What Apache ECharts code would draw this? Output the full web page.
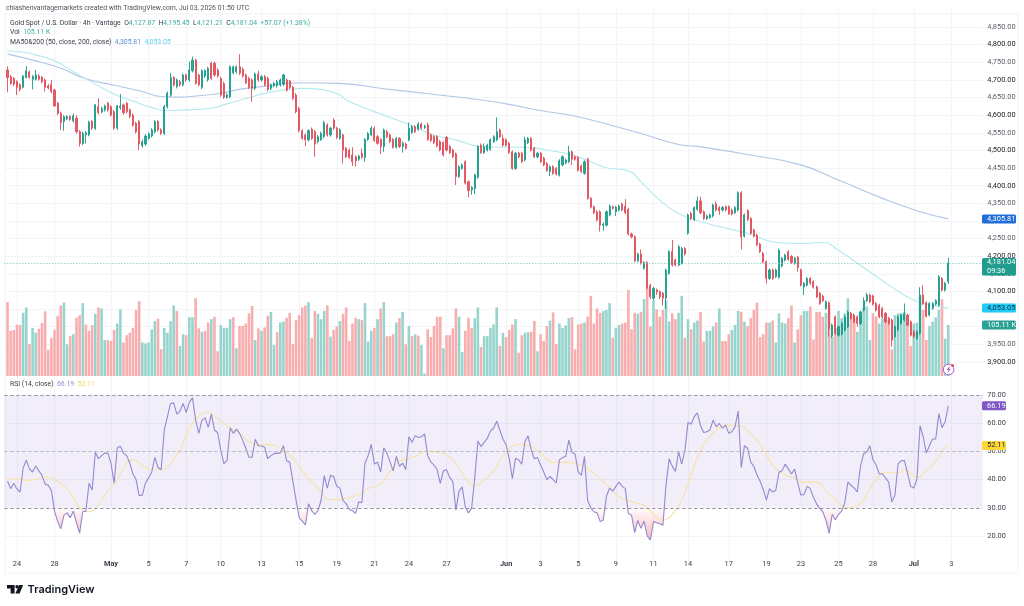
<!DOCTYPE html>
<html>
<head>
<meta charset="utf-8">
<title>XAUUSD 4h</title>
<script src="https://cdn.jsdelivr.net/npm/echarts@6/dist/echarts.min.js"></script>
<style>html,body{margin:0;padding:0;background:#fff}#chart{width:1024px;height:606px}</style>
</head>
<body>
<div id="chart"></div>
<script>
// Four-hour bars, oldest first
const opens = [
4728,4709,4704,4695,4686,4679,4707,4723,4702,4702,4711,4707,4700,4683,4686,4671,4634,4605,4582,4590,
4596,4584,4591,4553,4520,4544,4544,4582,4563,4624,4610,4615,4634,4624,4610,4563,4622,4629,4634,4615,
4600,4577,4582,4513,4518,4534,4541,4553,4582,4558,4548,4624,4657,4707,4681,4695,4686,4714,4700,4726,
4756,4714,4679,4711,4700,4747,4747,4728,4704,4690,4651,4652,4720,4723,4737,4730,4714,4704,4700,4676,
4717,4700,4709,4704,4676,4683,4683,4686,4688,4700,4697,4679,4657,4619,4556,4544,4530,4560,4553,4525,
4531,4539,4572,4544,4586,4563,4534,
4544,4506,4501,4487,4482,4475,4492,4480,4531,4544,4563,4539,4531,4511,4553,4544,4531,4509,4534,4511,
4518,4530,4551,4567,4560,4575,4565,4572,4544,4539,4539,4525,4522,4537,4511,4501,4490,4426,4449,4468,
4411,4388,4392,4424,4515,4494,4501,4503,4525,4530,4558,4534,4530,4520,4496,4449,4492,4492,4473,4522,
4534,4506,4482,4492,4478,4463,4440,4454,4449,4430,4459,4465,4468,4496,4482,4480,4456,4435,4475,4364,
4340,4326,4326,4288,4288,4317,4340,4326,4331,4348,4342,4333,4263,4255,4187,4206,4166,4182,4118,4081,
4104,4099,4095,4081,4151,4213,4189,4175,
4180,4222,4265,4321,4304,4333,4357,4326,4307,4310,4314,4348,4338,4331,4340,4340,4331,4323,4331,4380,
4257,4329,4307,4274,4260,4234,4208,4184,4137,4161,4142,4140,4172,4189,4213,4199,4180,4197,4161,4113,
4118,4137,4128,4113,4095,4087,4052,4068,3974,4028,3976,3979,3991,4000,4038,4033,4028,4009,4047,4074,
4090,4087,4066,4061,4052,4038,4024,4019,3972,3991,4009,4019,4033,4014,3986,3967,3981,4090,4068,4033,
4052,4064,4061,4137,4104,4127.87];
const closes = [
4707,4690,4688,4679,4673,4711,4726,4707,4709,4714,4702,4695,4679,4677,4667,4626,4605,4579,4596,4596,
4588,4598,4553,4520,4548,4550,4580,4563,4629,4607,4619,4626,4615,4600,4563,4626,4626,4607,4610,4596,
4572,4553,4518,4525,4541,4547,4558,4582,4558,4548,4624,4662,4707,4686,4700,4686,4714,4700,4728,4756,
4690,4686,4726,4726,4733,4704,4714,4711,4657,4651,4657,4737,4737,4737,4719,4711,4692,4679,4676,4717,
4700,4709,4686,4673,4686,4690,4695,4700,4714,4671,4679,4648,4610,4556,4534,4530,4556,4534,4518,4539,
4548,4579,4544,4563,4563,4537,4558,
4501,4482,4480,4468,4471,4484,4480,4531,4548,4563,4528,4520,4511,4558,4539,4525,4509,4534,4511,4520,
4506,4563,4567,4553,4575,4563,4569,4531,4528,4522,4513,4501,4487,4501,4494,4482,4426,4454,4459,4407,
4386,4395,4430,4511,4494,4511,4515,4530,4539,4553,4539,4515,4515,4494,4449,4492,4482,4468,4530,4534,
4501,4482,4492,4468,4459,4443,4454,4435,4433,4471,4482,4473,4496,4475,4475,4444,4440,4468,4364,4339,
4323,4303,4288,4291,4326,4342,4336,4339,4342,4331,4323,4263,4255,4187,4206,4180,4182,4109,4085,4109,
4099,4085,4081,4161,4213,4175,4175,4227,
4222,4206,4317,4307,4338,4357,4323,4307,4314,4317,4345,4331,4329,4338,4331,4321,4320,4338,4380,4255,
4317,4304,4265,4257,4232,4213,4184,4137,4161,4137,4161,4217,4194,4203,4191,4182,4194,4168,4118,4123,
4137,4123,4112,4085,4066,4074,4071,3995,4005,3981,4000,4009,4028,4042,4024,4014,4009,4042,4074,4090,
4071,4064,4047,4028,4028,4014,4009,3962,4000,4028,4033,4036,4005,3976,3972,3986,4090,4066,4030,4066,
4066,4074,4142,4104,4123,4181.04];
const lows = [
4665,4686,4682,4657,4667,4676,4704,4704,4673,4698,4698,4690,4667,4673,4662,4624,4600,4558,4556,4586,
4584,4579,4548,4511,4515,4520,4540,4558,4558,4602,4605,4610,4610,4596,4558,4558,4615,4602,4605,4591,
4567,4548,4501,4508,4513,4530,4537,4548,4553,4544,4544,4619,4652,4681,4676,4681,4681,4695,4695,4721,
4686,4681,4674,4706,4695,4700,4709,4706,4652,4646,4646,4648,4716,4718,4714,4706,4688,4674,4638,4671,
4695,4695,4681,4668,4671,4679,4678,4681,4683,4667,4674,4643,4605,4551,4530,4512,4525,4530,4482,4520,
4527,4534,4539,4539,4558,4532,4530,
4463,4478,4476,4456,4454,4470,4476,4468,4527,4540,4524,4516,4490,4496,4535,4521,4505,4505,4507,4494,
4502,4526,4547,4549,4556,4559,4561,4527,4524,4518,4509,4497,4483,4497,4490,4478,4402,4422,4445,4403,
4367,4374,4376,4420,4490,4490,4497,4499,4521,4526,4535,4511,4511,4490,4445,4445,4478,4464,4469,4518,
4497,4478,4478,4464,4455,4439,4427,4431,4429,4426,4455,4461,4464,4459,4471,4440,4436,4431,4360,4335,
4319,4299,4270,4272,4284,4313,4332,4314,4327,4327,4319,4259,4251,4183,4183,4176,4162,4105,4078,4075,
4090,4078,4060,4050,4147,4171,4171,4171,
4176,4202,4261,4303,4300,4329,4319,4303,4303,4306,4310,4327,4317,4327,4327,4317,4316,4319,4327,4219,
4253,4300,4261,4253,4228,4209,4180,4123,4133,4133,4138,4136,4168,4185,4187,4178,4176,4156,4114,4090,
4114,4119,4108,4081,4062,4070,4048,3972,3968,3977,3972,3975,3987,3996,4020,4010,4000,4005,4043,4070,
4067,4060,4043,4024,4024,4010,4005,3943,3968,3987,4005,4015,4001,3972,3968,3963,3977,4062,4026,4029,
4048,4060,4057,4100,4100,4121.21];
const highs = [
4739,4714,4708,4699,4690,4714,4739,4726,4714,4728,4716,4711,4704,4688,4700,4675,4638,4610,4600,4600,
4600,4605,4600,4558,4553,4555,4584,4586,4632,4648,4624,4630,4638,4629,4615,4629,4660,4633,4638,4619,
4605,4581,4586,4530,4546,4551,4563,4586,4586,4563,4629,4667,4720,4711,4704,4700,4718,4718,4752,4766,
4760,4718,4730,4730,4737,4752,4752,4733,4709,4695,4662,4741,4741,4741,4773,4735,4718,4709,4704,4721,
4726,4714,4714,4709,4690,4695,4700,4704,4717,4704,4700,4683,4662,4624,4560,4548,4560,4565,4558,4544,
4553,4584,4577,4567,4591,4567,4563,
4548,4510,4505,4509,4486,4488,4506,4535,4552,4569,4568,4544,4535,4562,4558,4548,4535,4538,4538,4525,
4522,4579,4572,4572,4580,4579,4573,4579,4548,4543,4543,4529,4526,4541,4515,4505,4494,4458,4463,4472,
4415,4399,4434,4515,4520,4520,4519,4534,4543,4594,4562,4545,4534,4524,4500,4496,4496,4496,4539,4538,
4538,4510,4496,4496,4482,4467,4458,4458,4453,4475,4486,4477,4513,4500,4486,4484,4460,4472,4479,4368,
4344,4330,4330,4295,4330,4346,4344,4343,4346,4352,4362,4337,4267,4259,4210,4219,4186,4186,4122,4113,
4108,4103,4099,4165,4217,4246,4193,4231,
4226,4226,4321,4326,4342,4369,4369,4330,4318,4321,4349,4355,4342,4342,4344,4344,4335,4342,4384,4384,
4321,4333,4311,4278,4264,4238,4212,4188,4165,4165,4165,4222,4198,4207,4217,4203,4198,4201,4165,4127,
4141,4141,4132,4117,4099,4091,4075,4072,4009,4032,4004,4013,4032,4046,4042,4037,4032,4046,4083,4096,
4094,4091,4070,4065,4056,4042,4028,4023,4004,4032,4037,4066,4037,4018,3990,3990,4112,4118,4072,4070,
4070,4078,4146,4141,4127,4195.45];

// Volume in thousands, and whether each volume bar is an up (G) or down (R) bar
const volumes = [
152,93,95,106,105,130,141,66,99,89,97,109,133,54,78,95,123,145,151,65,
82,86,120,125,150,106,93,105,128,141,139,74,74,72,95,108,137,69,84,89,
99,136,154,69,67,69,96,113,118,55,99,89,113,145,134,62,86,84,121,121,
160,98,91,93,110,117,122,51,105,99,99,117,121,57,103,103,108,129,144,74,
98,93,100,124,132,64,90,110,112,120,130,66,115,125,141,145,152,78,134,128,
117,134,145,81,95,102,113,
128,141,72,108,120,117,115,150,71,93,99,117,139,152,82,82,86,110,119,132,
65,103,82,86,83,64,5,96,80,103,122,122,57,84,84,98,139,122,49,93,
120,99,119,141,60,82,82,99,106,141,62,89,80,95,106,117,48,84,89,90,
91,113,51,86,72,103,114,131,66,108,99,104,119,121,55,106,108,110,122,165,
108,139,130,134,136,150,79,99,105,108,110,177,96,130,128,132,158,180,102,156,
137,122,136,156,112,129,117,130,
165,79,117,96,110,114,132,71,93,93,102,110,139,72,72,86,95,105,134,132,
112,103,119,136,151,80,86,110,110,114,69,129,110,108,119,145,69,96,125,134,
134,143,75,132,132,122,130,146,81,99,134,119,129,160,127,119,91,125,141,143,
74,129,122,108,119,129,115,55,125,129,129,132,108,62,108,110,163,136,74,103,
112,121,136,158,77,105.11];
const volumeDirs =
"RRRRRGGRGG"+"RRRRRRRRGG"+"RGRRGRRRGR"+"GGRRRGGRRR"+"RRRGGGGGRR"+"GGGGRGGRGG"+"RRGRRGRRGG"+"GGRGRRRRRG"+"RGRRGGRGGR"+"RRRRRRGRRG"+"GGRGRRG"+
"RRRRRGRGGG"+"RGRGRRRGRG"+"RGRGRGGRRR"+"RRGRRRRGGR"+"RRGGRGGGGG"+"RGRRRGRRGG"+"RRGRRRGRRG"+"GGGRRRRGRR"+"RRRGGGRGGR"+"RRRRGRGRRG"+"RRRGGRRG"+
"GRGRGGRRGG"+"GRGRRRGGGR"+"GRRRRRRRGR"+"GGGGRRGRRG"+"GRRRRRGRGR"+"GGGGRRGGGG"+"GRRGGRRRGG"+"GGRRGGGRRG"+"GGGRGG";

// RSI(14) per bar
const rsiValues = [
39.4,36.8,38.7,36.7,35.6,44.1,46.9,43.8,42.7,44.8,43.1,41.5,38.4,38,36.1,28.8,25.1,22.6,27.4,28.2,
26.5,28.8,24.7,21,28.6,28.8,38.7,36.3,49.7,47.4,48.5,49.4,49.4,45.8,38.7,51.3,51.8,49.4,48.5,45.8,
42,40,34.3,34.5,38.8,40.6,42.7,47.9,44.3,43.5,57.6,62.3,67,67.2,63.2,64.3,67,63.8,67.5,69,
61.1,56.4,61.1,61.9,58.5,63.2,57.6,56.7,50.5,45.7,46.7,58.4,56.4,57.9,56.4,54,51.1,47.9,47.9,54.3,
52,51.9,51.5,47.4,48.5,49.2,49.4,49.4,52,46.7,46.2,39.4,32.9,26.5,25.3,23.9,31.4,29,27.7,29,
32.6,41.4,37,41.5,41.1,37.6,37,
32.6,31.4,29.4,29,28,32.1,31.8,45.8,48.5,52.5,45.5,46.2,42.7,51.3,49.4,46.2,43.1,48.2,44.7,45.8,
43.5,55.2,53.2,55.6,54.9,55.2,56.2,48.5,46.2,45.2,43.5,38.7,43.1,43.5,40.8,39.4,29.2,35.9,37.4,30.2,
28.2,29.8,40.6,53.7,51.7,53.2,54.6,57.2,58.2,60.7,57.6,54.4,52.3,47.4,40.3,47.6,47,45.5,53.5,55.5,
50.5,47.4,47.8,45.2,42.7,40,41.1,40,38.8,47,47.8,48.2,54,49.7,49,42.7,41.5,48.2,32.6,30,
28.6,28.2,25.1,25.7,34.1,37,35.9,37.6,39.1,37.6,36.8,27.9,27.4,21.2,25.5,22.7,25.3,20,18.5,25.1,
24.7,24.4,23.8,38.2,47.4,44.7,42.9,49.9,
45.5,50.2,60.3,59.6,62.3,63.7,59.1,56.7,57,57.6,61.1,58.7,59.9,58.2,59.3,56.4,57,58.7,64.3,44.3,
52,51.1,46.2,44.7,41.7,39.4,36.5,32.7,36.8,35.6,36.2,42.6,43.1,45.5,43.8,42,43.7,38.8,34.5,34.7,
37.6,36.8,33.8,31.4,29.8,28.6,25.5,20.9,27.7,25.7,27.7,28.8,31.8,39.1,38,37,35.6,44.7,49.1,49.9,
52,47,45.2,42,42,40.6,39.1,32.1,34.5,45.6,46.7,46.8,42.3,37.6,37,40,59.1,55.2,49.4,52,
54.4,54.4,63.4,58.4,60.5,66.19];

// Smoothed overlays, read at the bars listed alongside each one
const slowMaBars = [0,8,17,25,34,42,50,54,61,68,74,81,88,94,106,120,135,151,159,170,180,191,202,214,221,237,253,265,279,290,300];
const slowMaValues = [4773,4756,4733,4703,4685,4669,4652,4651,4655,4662,4673,4681,4689,4692,4690,4675,4660,4643,4632,4613,4599,4575,4548,4517,4510,4487,4459,4416,4364,4329,4305.81];
const fastMaBars = [0,4,9,15,21,28,34,40,46,51,57,64,70,76,83,90,94,100,106,108,117,127,136,143,150,157,165,172,180,186,191,198,202,208,214,220,227,236,246,253,260,265,271,278,285,291,297,300];
const fastMaValues = [4782,4780,4771,4754,4723,4688,4660,4640,4622,4613,4615,4618,4632,4647,4664,4673,4676,4673,4657,4643,4610,4577,4544,4530,4512,4509,4509,4501,4487,4468,4451,4442,4411,4359,4321,4301,4284,4265,4238,4236,4239,4217,4180,4137,4095,4068,4057,4053.05];
const rsiMaBars = [0,3,6,9,12,15,18,20,23,26,28,32,35,38,40,43,46,49,52,55,58,61,64,67,71,74,77,81,84,88,91,94,99,103,106,110,112,115,119,122,125,130,134,137,140,143,146,149,152,155,158,163,167,170,174,178,183,187,191,195,199,203,206,209,211,214,218,221,223,226,229,233,237,240,243,246,251,254,258,261,265,268,271,274,277,280,284,286,290,293,296,298,300];
const rsiMaValues = [40.1,40.3,39.7,40.1,40.9,40,37.6,35.3,30.2,28.6,29.8,35.9,40,45.8,47,45.2,43.5,43.5,45.8,50.5,58.2,62.6,63.8,61.7,58.4,56.4,53.5,52.3,52.3,50.2,47.6,42.9,37,32.9,33,34.1,34.7,36.8,38.4,42.9,46.4,48.2,50.2,49.6,48.8,45.8,40.6,37.6,40,43.1,48.2,52.5,51.7,49.4,46.1,46.1,45,42.3,38.2,34.1,32.1,30.9,27.7,25.5,26.5,30.6,41.7,50.5,54,57.6,59.3,59.1,56.4,52.3,47,42.9,40.6,39.1,39.1,35.9,31.8,30,30.6,34.7,40,42.6,42.3,43.5,40.8,43.1,46.4,50.2,52.11];

// Time scale: labels and the bar slot each one sits on (slot 0 is a blank lead-in)
const tickLabels = ['24','28','May','5','7','10','13','15','19','21','24','27','Jun','3','5','9','11','14','17','19','23','25','28','Jul','3'];
const tickSlots = [4,16,34,46,58,69,82,94,106,118,129,141,160,171,183,195,207,218,231,243,254,266,277,290,302];
const monthLabels = ['May','Jun','Jul'];
const slotCount = 313;

const lastClose = closes[closes.length - 1];
const lastVolume = volumes[volumes.length - 1];
const lastRsi = rsiValues[rsiValues.length - 1];
const lastRsiMa = rsiMaValues[rsiMaValues.length - 1];
const lastSlowMa = slowMaValues[slowMaValues.length - 1];
const lastFastMa = fastMaValues[fastMaValues.length - 1];

const UP = '#1a9c8a', DOWN = '#e04f5a';
const VOL_UP = '#97d4ce', VOL_DOWN = '#f8aeae';
const GRID = '#f3f4f8';
const FONT = 'Roboto, sans-serif';
const TEXT_SIZE = 7.4;
const LEGEND_SIZE = 6.85;

const categories = new Array(slotCount).fill('');
tickSlots.forEach((s, k) => { categories[s] = tickLabels[k]; });
const hasLabel = (index) => categories[index] !== '';

// Every series addresses its bar's slot explicitly; bar n sits in slot n + 1
const candleData = opens.map((o, i) => [i + 1, o, closes[i], lows[i], highs[i]]);
const volumeData = volumes.map((v, i) => ({
  value: [i + 1, v],
  itemStyle: { color: volumeDirs[i] === 'G' ? VOL_UP : VOL_DOWN }
}));
const rsiData = rsiValues.map((v, i) => [i + 1, v]);
const rsiUnder = rsiValues.map((v, i) => [i + 1, Math.min(v, 30)]);
const pairs = (bars, vals) => bars.map((b, i) => [b + 1, vals[i]]);

const plotLeft = 4.36, plotWidth = 978.4;
const gridXAxis = (gridIndex, extra) => Object.assign({
  type: 'category', gridIndex, data: categories, boundaryGap: false,
  axisLine: { show: false }, axisTick: { show: false },
  axisLabel: { show: false },
  splitLine: { show: true, interval: hasLabel, lineStyle: { color: GRID, width: 1 } }
}, extra);

const priceLabel = v => v.toLocaleString('en-US', { minimumFractionDigits: 2, maximumFractionDigits: 2 });
const span = color => ({ fontFamily: FONT, fontSize: LEGEND_SIZE, color });

const option = {
  animation: false,
  backgroundColor: '#ffffff',
  title: [
    { left: 6, top: 4.5, padding: 0, text: 'chiashenvantagemarkets created with TradingView.com, Jul 03, 2026 01:50 UTC',
      textStyle: { fontFamily: FONT, fontSize: LEGEND_SIZE, fontWeight: 'normal', color: '#50535e' } },
    { left: 10, top: 19.5, padding: 0,
      text: '{l|Gold Spot / U.S. Dollar · 4h · Vantage}  {l|O}{v|4,127.87}  {l|H}{v|4,195.45}  {l|L}{v|4,121.21}  {l|C}{v|4,181.04}  {v|+57.07 (+1.38%)}',
      textStyle: { fontFamily: FONT, fontSize: LEGEND_SIZE, fontWeight: 'normal',
        rich: { l: span('#3a3e4a'), v: span('#3fae9f') } } },
    { left: 10, top: 29, padding: 0, text: '{l|Vol}  {v|105.11 K}',
      textStyle: { fontFamily: FONT, fontSize: LEGEND_SIZE, fontWeight: 'normal',
        rich: { l: span('#3a3e4a'), v: span('#3fae9f') } } },
    { left: 10, top: 38.5, padding: 0, text: '{l|MA50&200 (50, close, 200, close)}  {b|4,305.81}  {c|4,053.05}',
      textStyle: { fontFamily: FONT, fontSize: LEGEND_SIZE, fontWeight: 'normal',
        rich: { l: span('#3a3e4a'), b: span('#5b8fd0'), c: span('#5fd0ec') } } },
    { left: 10, top: 381, padding: 0, text: '{l|RSI (14, close)}  {p|66.19}  {y|52.11}',
      textStyle: { fontFamily: FONT, fontSize: LEGEND_SIZE, fontWeight: 'normal',
        rich: { l: span('#3a3e4a'), p: span('#9a86d6'), y: span('#f4d35e') } } },
    { left: 27.5, top: 584, padding: 0, text: 'TradingView',
      textStyle: { fontFamily: '"Inter", sans-serif', fontSize: 11, fontWeight: 600, color: '#131722' } }
  ],
  grid: [
    { left: plotLeft, width: plotWidth, top: 9.37, height: 370.26 },
    { left: plotLeft, width: plotWidth, top: 278.8, height: 97.2 },
    { left: plotLeft, width: plotWidth, top: 366.8, height: 197.4 }
  ],
  xAxis: [
    gridXAxis(0),
    gridXAxis(1, { splitLine: { show: false } }),
    gridXAxis(2, {
      axisLabel: {
        show: true, interval: hasLabel, margin: -3.5, hideOverlap: false,
        fontFamily: FONT, fontSize: TEXT_SIZE, color: '#3a3e4a',
        formatter: v => monthLabels.includes(v) ? '{m|' + v + '}' : v,
        rich: { m: { fontFamily: FONT, fontSize: TEXT_SIZE, fontWeight: 'bold', color: '#3a3e4a' } }
      }
    })
  ],
  yAxis: [
    { type: 'value', gridIndex: 0, position: 'right', min: 3850, max: 4900, interval: 50, scale: true,
      axisLine: { show: false }, axisTick: { show: false },
      splitLine: { show: true, showMinLine: false, showMaxLine: false, lineStyle: { color: GRID, width: 1 } },
      axisLabel: { margin: 4.5, showMinLabel: false, showMaxLabel: false, fontFamily: FONT, fontSize: TEXT_SIZE,
        formatter: priceLabel, color: v => (Number(v) % 100 === 0 ? '#20232c' : '#5a5e69') } },
    { type: 'value', gridIndex: 1, position: 'right', min: 0, max: 200,
      axisLine: { show: false }, axisTick: { show: false }, axisLabel: { show: false }, splitLine: { show: false } },
    { type: 'value', gridIndex: 2, position: 'right', min: 10, max: 80, interval: 10,
      axisLine: { show: false }, axisTick: { show: false },
      splitLine: { show: true, showMinLine: false, showMaxLine: false, lineStyle: { color: GRID, width: 1 } },
      axisLabel: { margin: 4.5, showMinLabel: false, showMaxLabel: false, fontFamily: FONT, fontSize: TEXT_SIZE, color: '#3a3e4a',
        formatter: v => v.toFixed(2) } }
  ],
  series: [
    { type: 'bar', name: 'Volume', xAxisIndex: 1, yAxisIndex: 1, data: volumeData, barWidth: 2.6, z: 1, silent: true },
    { type: 'line', name: 'MA 200', xAxisIndex: 0, yAxisIndex: 0, data: pairs(slowMaBars, slowMaValues), smooth: true,
      showSymbol: false, z: 2, silent: true, lineStyle: { color: '#b0c6e5', width: 1.1 } },
    { type: 'line', name: 'MA 50', xAxisIndex: 0, yAxisIndex: 0, data: pairs(fastMaBars, fastMaValues), smooth: true,
      showSymbol: false, z: 2, silent: true, lineStyle: { color: '#b3e9ef', width: 1.1 } },
    { type: 'candlestick', name: 'XAUUSD', xAxisIndex: 0, yAxisIndex: 0, data: candleData, barWidth: 1.6, z: 3, silent: true,
      encode: { x: 0, y: [1, 2, 3, 4] },
      itemStyle: { color: UP, color0: DOWN, borderColor: UP, borderColor0: DOWN, borderWidth: 1, opacity: 0.9 },
      markLine: { silent: true, symbol: 'none', label: { show: false },
        lineStyle: { color: '#6fc4b8', type: [1, 2], width: 1 }, data: [{ yAxis: lastClose }] } },
    { type: 'line', name: 'RSI oversold', xAxisIndex: 2, yAxisIndex: 2, data: rsiUnder, showSymbol: false, silent: true, z: 2,
      lineStyle: { opacity: 0 },
      areaStyle: { origin: 30, color: { type: 'linear', x: 0, y: 0, x2: 0, y2: 1,
        colorStops: [{ offset: 0, color: 'rgba(242,54,69,0.02)' }, { offset: 1, color: 'rgba(242,54,69,0.5)' }] } } },
    { type: 'line', name: 'RSI MA', xAxisIndex: 2, yAxisIndex: 2, data: pairs(rsiMaBars, rsiMaValues), smooth: true,
      showSymbol: false, silent: true, z: 3, lineStyle: { color: '#f7e3a8', width: 1.1 } },
    { type: 'line', name: 'RSI', xAxisIndex: 2, yAxisIndex: 2, data: rsiData, showSymbol: false, silent: true, z: 4,
      lineStyle: { color: '#9487d0', width: 1.1 },
      markArea: { silent: true, itemStyle: { color: 'rgba(126,87,194,0.1)' }, data: [[{ yAxis: 30 }, { yAxis: 70 }]] },
      markLine: { silent: true, symbol: 'none', label: { show: false },
        data: [
          { yAxis: 70, lineStyle: { color: '#8d8e99', type: [3, 3], width: 1 } },
          { yAxis: 50, lineStyle: { color: '#b9b7c6', type: [3, 3], width: 1 } },
          { yAxis: 30, lineStyle: { color: '#8d8e99', type: [3, 3], width: 1 } }
        ] } }
  ]
};

const chart = echarts.init(document.getElementById('chart'), null, { renderer: 'canvas' });
chart.setOption(option);

// Value tags on the right-hand scales, placed through the axes
const tagLayer = [];
function addTag(axisIndex, value, lines, bg, fg, width) {
  const cy = chart.convertToPixel({ yAxisIndex: axisIndex }, value);
  const h = lines.length > 1 ? 17.5 : 9;
  const top = lines.length > 1 ? cy - 5 : cy - h / 2;
  tagLayer.push({ type: 'rect', z: 100, shape: { x: 982, y: top, width, height: h, r: 1.5 }, style: { fill: bg } });
  lines.forEach((t, k) => tagLayer.push({
    type: 'text', z: 101, x: 987, y: top + 4.7 + k * 8.3,
    style: { text: t, fill: fg, font: TEXT_SIZE + 'px Roboto, sans-serif', textVerticalAlign: 'middle' }
  }));
}
addTag(0, lastSlowMa, [priceLabel(lastSlowMa)], '#1f6fd6', '#ffffff', 34);
addTag(0, lastClose, [priceLabel(lastClose), '09:36'], '#1f9c8c', '#ffffff', 34);
addTag(0, lastFastMa, [priceLabel(lastFastMa)], '#1fcbf7', '#12303a', 34);
addTag(1, lastVolume, ['105.11 K'], '#2aa192', '#ffffff', 34);
addTag(2, lastRsi, [lastRsi.toFixed(2)], '#7e57c2', '#ffffff', 24);
addTag(2, lastRsiMa, [lastRsiMa.toFixed(2)], '#fdd835', '#20232c', 24);

// Pane frame, alert badge and wordmark glyph
chart.setOption({
  graphic: tagLayer.concat([
    { type: 'rect', z: 0, silent: true, shape: { x: 5, y: 14, width: 1013, height: 559 },
      style: { fill: 'none', stroke: '#f0f2f6', lineWidth: 1 } },
    { type: 'circle', z: 50, shape: { cx: 948.6, cy: 369.5, r: 5.3 }, style: { fill: '#ffffff', stroke: '#a855c8', lineWidth: 1 } },
    { type: 'polygon', z: 51, shape: { points: [[950,365.8],[946.6,370],[948.6,370],[947.4,373.2],[950.8,368.8],[948.8,368.8]] } , style: { fill: '#a855c8' } },
    { type: 'circle', z: 52, shape: { cx: 952.6, cy: 365.6, r: 1.4 }, style: { fill: '#f23645' } },
    { type: 'polygon', z: 50, shape: { points: [[7,585],[14.6,585],[14.6,593.6],[10.6,593.6],[10.6,588.6],[7,588.6]] }, style: { fill: '#131722' } },
    { type: 'circle', z: 50, shape: { cx: 17.1, cy: 586.8, r: 1.8 }, style: { fill: '#131722' } },
    { type: 'polygon', z: 50, shape: { points: [[19.2,585],[23.2,585],[19.6,593.6],[15.4,593.6]] }, style: { fill: '#131722' } }
  ])
});
</script>
</body>
</html>
